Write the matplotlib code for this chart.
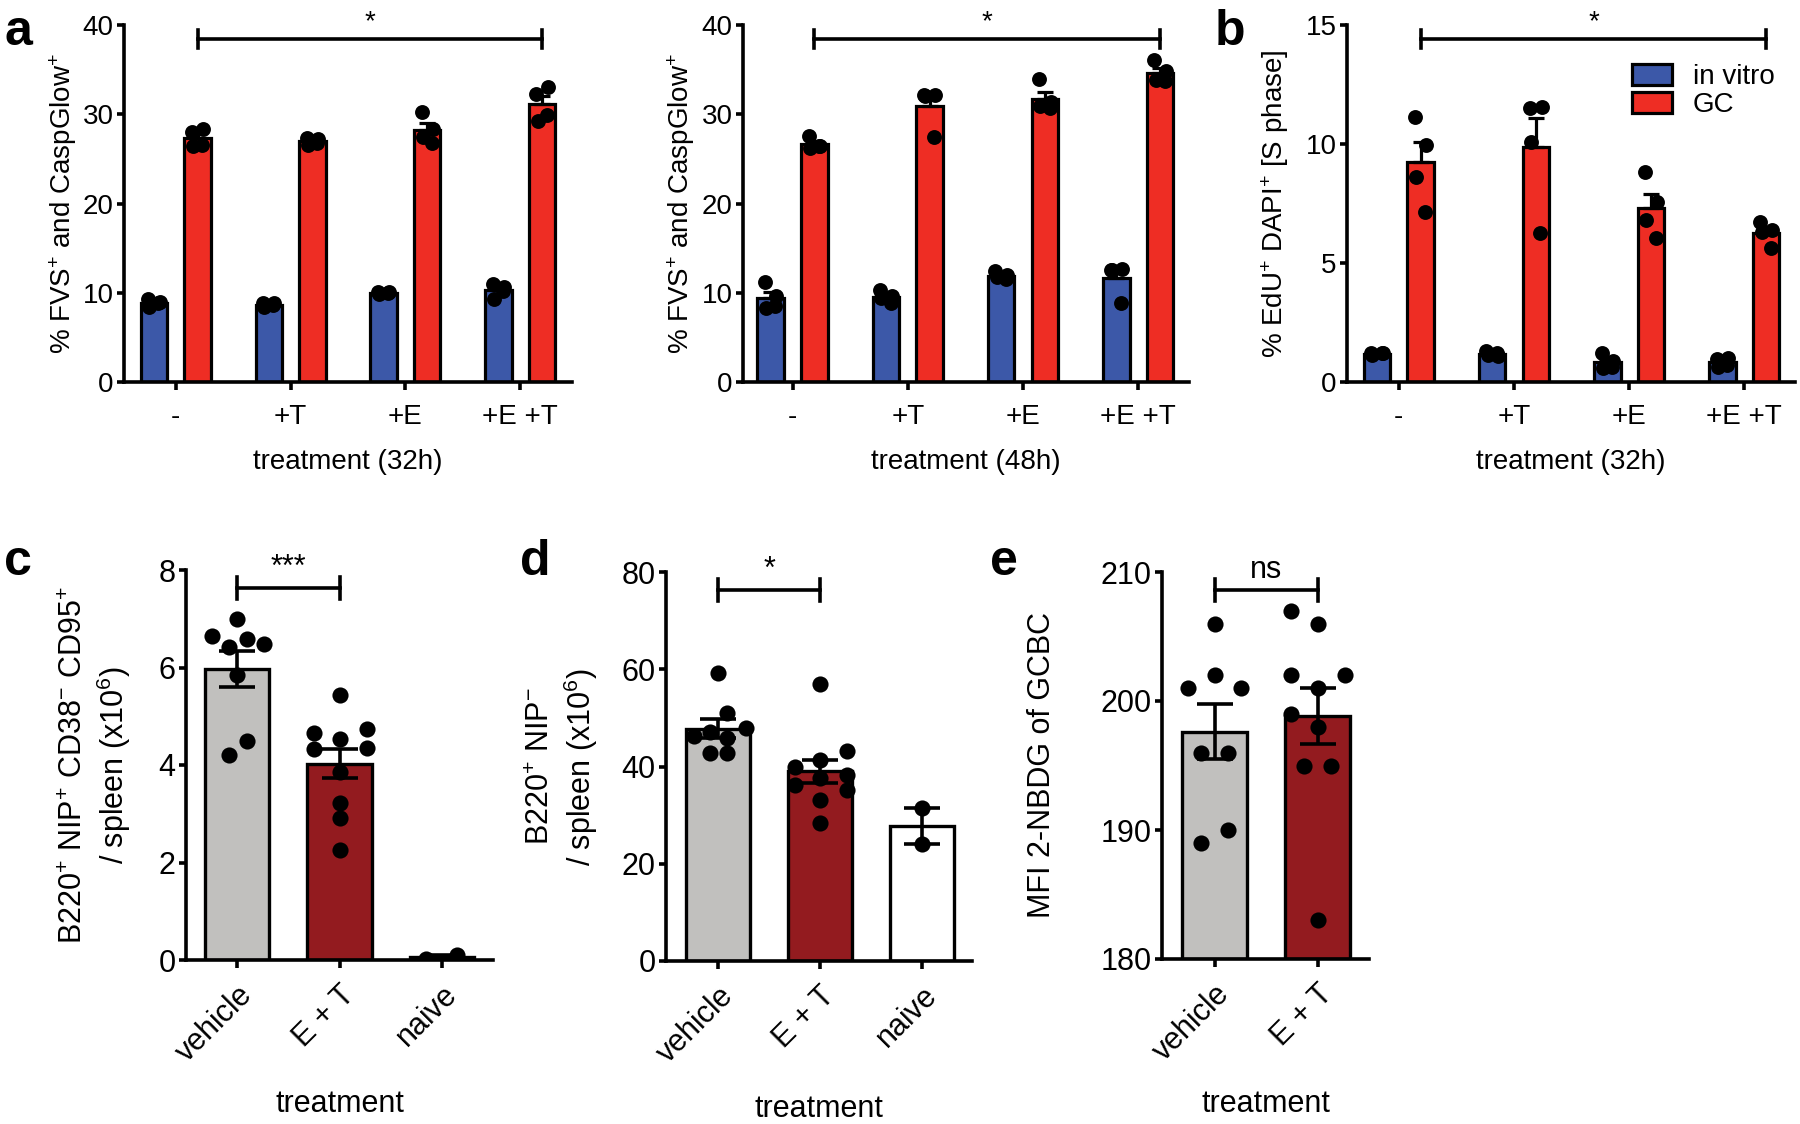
import numpy as np
import matplotlib.pyplot as plt

plt.rcParams['font.family'] = ['Liberation Sans', 'DejaVu Sans']
plt.rcParams['mathtext.fontset'] = 'custom'
plt.rcParams['mathtext.rm'] = 'Liberation Sans'
plt.rcParams['mathtext.it'] = 'Liberation Sans:italic'
plt.rcParams['mathtext.bf'] = 'Liberation Sans:bold'
FS_TOP = 20   # text size, upper row
FS_BOT = 22   # text size, lower row

# ---- data ----
treatments = ['-', '+T', '+E', '+E +T']

# panel a (32h)
a32_vitro = [[9.3, 9.0, 8.4, 8.8], [8.9, 8.8, 8.4, 8.6], [10.1, 10.1, 9.9, 10.0], [11.0, 10.6, 9.3, 10.2]]
a32_gc = [[28.0, 28.4, 26.4, 26.5], [27.3, 27.2, 26.6, 26.8], [30.3, 28.3, 27.5, 26.8], [32.3, 33.1, 29.2, 29.9]]
# panel a (48h)
a48_vitro = [[11.2, 9.6, 8.3, 8.5], [10.3, 9.6, 9.4, 8.8], [12.4, 12.0, 11.8, 11.5], [12.6, 12.7, 12.5, 8.9]]
a48_gc = [[27.6, 26.4, 26.2, 26.4], [32.2, 32.2, 32.0, 27.4], [34.0, 31.4, 30.9, 30.7], [36.1, 34.8, 33.8, 33.7]]
# panel b
b_vitro = [[1.2, 1.2, 1.15, 1.2], [1.3, 1.1, 1.15, 1.2], [1.2, 0.9, 0.6, 0.65], [0.95, 1.0, 0.65, 0.7]]
b_gc = [[11.15, 9.96, 8.63, 7.16], [11.5, 11.57, 10.1, 6.25], [8.84, 7.58, 6.81, 6.04], [6.74, 6.39, 6.32, 5.62]]
group_jitter = [-0.05, 0.05, -0.04, 0.04]

groups3 = ['vehicle', 'E + T', 'naive']
groups2 = ['vehicle', 'E + T']

c_vehicle = [7.0, 6.65, 6.43, 6.58, 6.48, 5.85, 4.49, 4.21]
c_et = [5.44, 4.66, 4.74, 4.53, 4.33, 4.34, 3.85, 3.23, 2.91, 2.26]
c_naive = [0.03, 0.1]
c_jit = [[0, -0.25, -0.08, 0.1, 0.26, 0, 0.1, -0.08],
         [0, -0.25, 0.27, 0, -0.25, 0.27, 0, 0, 0, 0],
         [-0.15, 0.15]]

d_vehicle = [59.2, 51.0, 47.9, 47.0, 46.2, 45.8, 42.7, 42.7]
d_et = [57.0, 43.1, 41.4, 40.0, 38.3, 37.6, 36.2, 35.2, 33.1, 28.3]
d_naive = [31.4, 24.1]
d_jit = [[0, 0.09, 0.27, -0.08, -0.24, 0.09, -0.08, 0.09],
         [0, 0.26, 0, -0.25, 0.26, 0, -0.25, 0.26, 0, 0],
         [0, 0]]

e_vehicle = [206, 202, 201, 201, 196, 196, 190, 189]
e_et = [207, 206, 202, 202, 201, 199, 198, 195, 195, 183]
e_jit = [[0, 0, -0.26, 0.26, -0.13, 0.13, 0.13, -0.13],
         [-0.26, 0, -0.26, 0.27, 0, -0.26, 0, -0.13, 0.13, 0]]

blue = '#3C58A8'
red = '#EE2D24'
grey = '#C1C0BE'
darkred = '#931B1F'

W, H = 1800, 1124
fig = plt.figure(figsize=(18, 11.24), dpi=100)


def box(l, r, t, b):
    return fig.add_axes([l / W, 1 - b / H, (r - l) / W, (b - t) / H])


def style(ax, fs):
    for s in ['top', 'right']:
        ax.spines[s].set_visible(False)
    for s in ['left', 'bottom']:
        ax.spines[s].set_linewidth(2.6)
    ax.tick_params(width=2.6, length=5, labelsize=fs, pad=2.5)
    ax.tick_params(axis='x', length=6, pad=10)


def bracket(ax, x0, x1, y, d, txt, fs):
    ax.plot([x0, x1], [y, y], color='k', lw=2.6, clip_on=False, zorder=5)
    for xx in (x0, x1):
        ax.plot([xx, xx], [y - d, y + d], color='k', lw=2.6, clip_on=False, zorder=5)
    ax.text((x0 + x1) / 2, y + d * 0.5, txt, ha='center', va='bottom', fontsize=fs)


def grouped(ax, vitro, gc, ymax, step, xlabel, ylabel):
    x = np.arange(len(treatments))
    for i in range(len(treatments)):
        for vals, off, col in ((vitro[i], -0.19, blue), (gc[i], 0.19, red)):
            m = np.mean(vals)
            sem = np.std(vals, ddof=1) / np.sqrt(len(vals))
            ax.bar(x[i] + off, m, width=0.23, color=col, edgecolor='k', linewidth=2.3, zorder=2)
            ax.errorbar(x[i] + off, m, yerr=[[0], [sem]], color='k', capsize=6,
                        elinewidth=2.3, capthick=2.3, zorder=3)
            ax.scatter(x[i] + off + np.array(group_jitter), vals, s=115, color='k',
                       zorder=4, linewidths=0)
    ax.set_ylim(0, ymax)
    ax.set_yticks(np.arange(0, ymax + 0.1, step))
    ax.set_xticks(x)
    ax.set_xticklabels(treatments)
    ax.set_xlabel(xlabel, fontsize=FS_TOP, va='baseline')
    ax.set_ylabel(ylabel, fontsize=FS_TOP)
    style(ax, FS_TOP)


def single(ax, data, colors, jit, ylim, step, ylabel, labels):
    x = np.arange(len(data))
    base = ylim[0]
    for i, vals in enumerate(data):
        m = np.mean(vals)
        sem = np.std(vals, ddof=1) / np.sqrt(len(vals))
        ax.bar(x[i], m - base, bottom=base, width=0.63, color=colors[i], edgecolor='k',
               linewidth=2.4, zorder=2)
        ax.scatter(x[i] + np.array(jit[i]), vals, s=135, color='k', zorder=3, linewidths=0)
        ax.errorbar(x[i], m, yerr=sem, color='k', capsize=13, elinewidth=2.6,
                    capthick=2.6, zorder=4)
    ax.set_ylim(*ylim)
    ax.set_yticks(np.arange(ylim[0], ylim[1] + 0.01, step))
    ax.set_xticks(x)
    ax.set_xticklabels(labels, rotation=45, ha='right', va='top', rotation_mode='anchor')
    ax.set_xlabel('treatment', fontsize=FS_BOT, va='baseline')
    ax.set_ylabel(ylabel, fontsize=FS_BOT)
    style(ax, FS_BOT)
    ax.tick_params(axis='x', pad=8)


ylab_a = '% FVS$^{+}$ and CaspGlow$^{+}$'

ax1 = box(124, 572, 25, 382)
grouped(ax1, a32_vitro, a32_gc, 40, 10, 'treatment (32h)', ylab_a)
ax1.set_xlim(-0.45, 3.45)
bracket(ax1, 0.19, 3.19, 38.4, 1.0, '*', FS_TOP)

ax2 = box(743, 1189, 25, 382)
grouped(ax2, a48_vitro, a48_gc, 40, 10, 'treatment (48h)', ylab_a)
ax2.set_xlim(-0.43, 3.44)
bracket(ax2, 0.19, 3.19, 38.4, 1.0, '*', FS_TOP)

ax3 = box(1347, 1795, 25, 382)
grouped(ax3, b_vitro, b_gc, 15, 5, 'treatment (32h)', '% EdU$^{+}$ DAPI$^{+}$ [S phase]')
ax3.set_xlim(-0.45, 3.44)
bracket(ax3, 0.19, 3.19, 14.4, 0.38, '*', FS_TOP)
ax3.legend(handles=[plt.Rectangle((0, 0), 1, 1, fc=blue, ec='k', lw=2.3),
                    plt.Rectangle((0, 0), 1, 1, fc=red, ec='k', lw=2.3)],
           labels=['in vitro', 'GC'], loc='upper left', frameon=False, fontsize=FS_TOP,
           bbox_to_anchor=(1632 / W, 1 - 64 / H), bbox_transform=fig.transFigure,
           handlelength=1.44, handleheight=0.8, labelspacing=0.05, handletextpad=0.75,
           borderpad=0, borderaxespad=0)

for ax, xy in ((ax1, -0.1), (ax2, -0.104), (ax3, -0.126)):
    ax.yaxis.set_label_coords(xy, 0.5)
    ax.xaxis.set_label_coords(0.5, -0.244)

axc = box(186, 493, 570, 960)
single(axc, [c_vehicle, c_et, c_naive], [grey, darkred, 'white'], c_jit, (0, 8), 2,
       'B220$^{+}$ NIP$^{+}$ CD38$^{-}$ CD95$^{+}$\n/ spleen (x10$^{6}$)', groups3)
axc.set_xlim(-0.5, 2.5)
bracket(axc, 0, 1, 7.63, 0.225, '***', FS_BOT)

axd = box(666, 972, 572, 961)
single(axd, [d_vehicle, d_et, d_naive], [grey, darkred, 'white'], d_jit, (0, 80), 20,
       'B220$^{+}$ NIP$^{-}$\n/ spleen (x10$^{6}$)', groups3)
axd.set_xlim(-0.51, 2.49)
bracket(axd, 0, 1, 76.3, 2.25, '*', FS_BOT)

axe = box(1162, 1369, 572, 959)
single(axe, [e_vehicle, e_et], [grey, darkred], e_jit, (180, 210), 10,
       'MFI 2-NBDG of GCBC', groups2)
axe.set_xlim(-0.51, 1.5)
bracket(axe, 0, 1, 208.6, 0.85, 'ns', FS_BOT)

axc.yaxis.set_label_coords(-0.173, 0.5)
axd.yaxis.set_label_coords(-0.216, 0.5)
axe.yaxis.set_label_coords(-0.507, 0.5)
axc.xaxis.set_label_coords(0.5, -0.39)
axd.xaxis.set_label_coords(0.5, -0.401)
axe.xaxis.set_label_coords(0.5, -0.395)

# panel letters
for lx, ly, letter in ((4, 45, 'a'), (1215, 45, 'b'), (4, 575, 'c'), (520, 575, 'd'), (990, 575, 'e')):
    fig.text(lx / W, 1 - ly / H, letter, fontsize=36, fontweight='bold', ha='left', va='baseline')

fig.savefig('out.png', dpi=100)
